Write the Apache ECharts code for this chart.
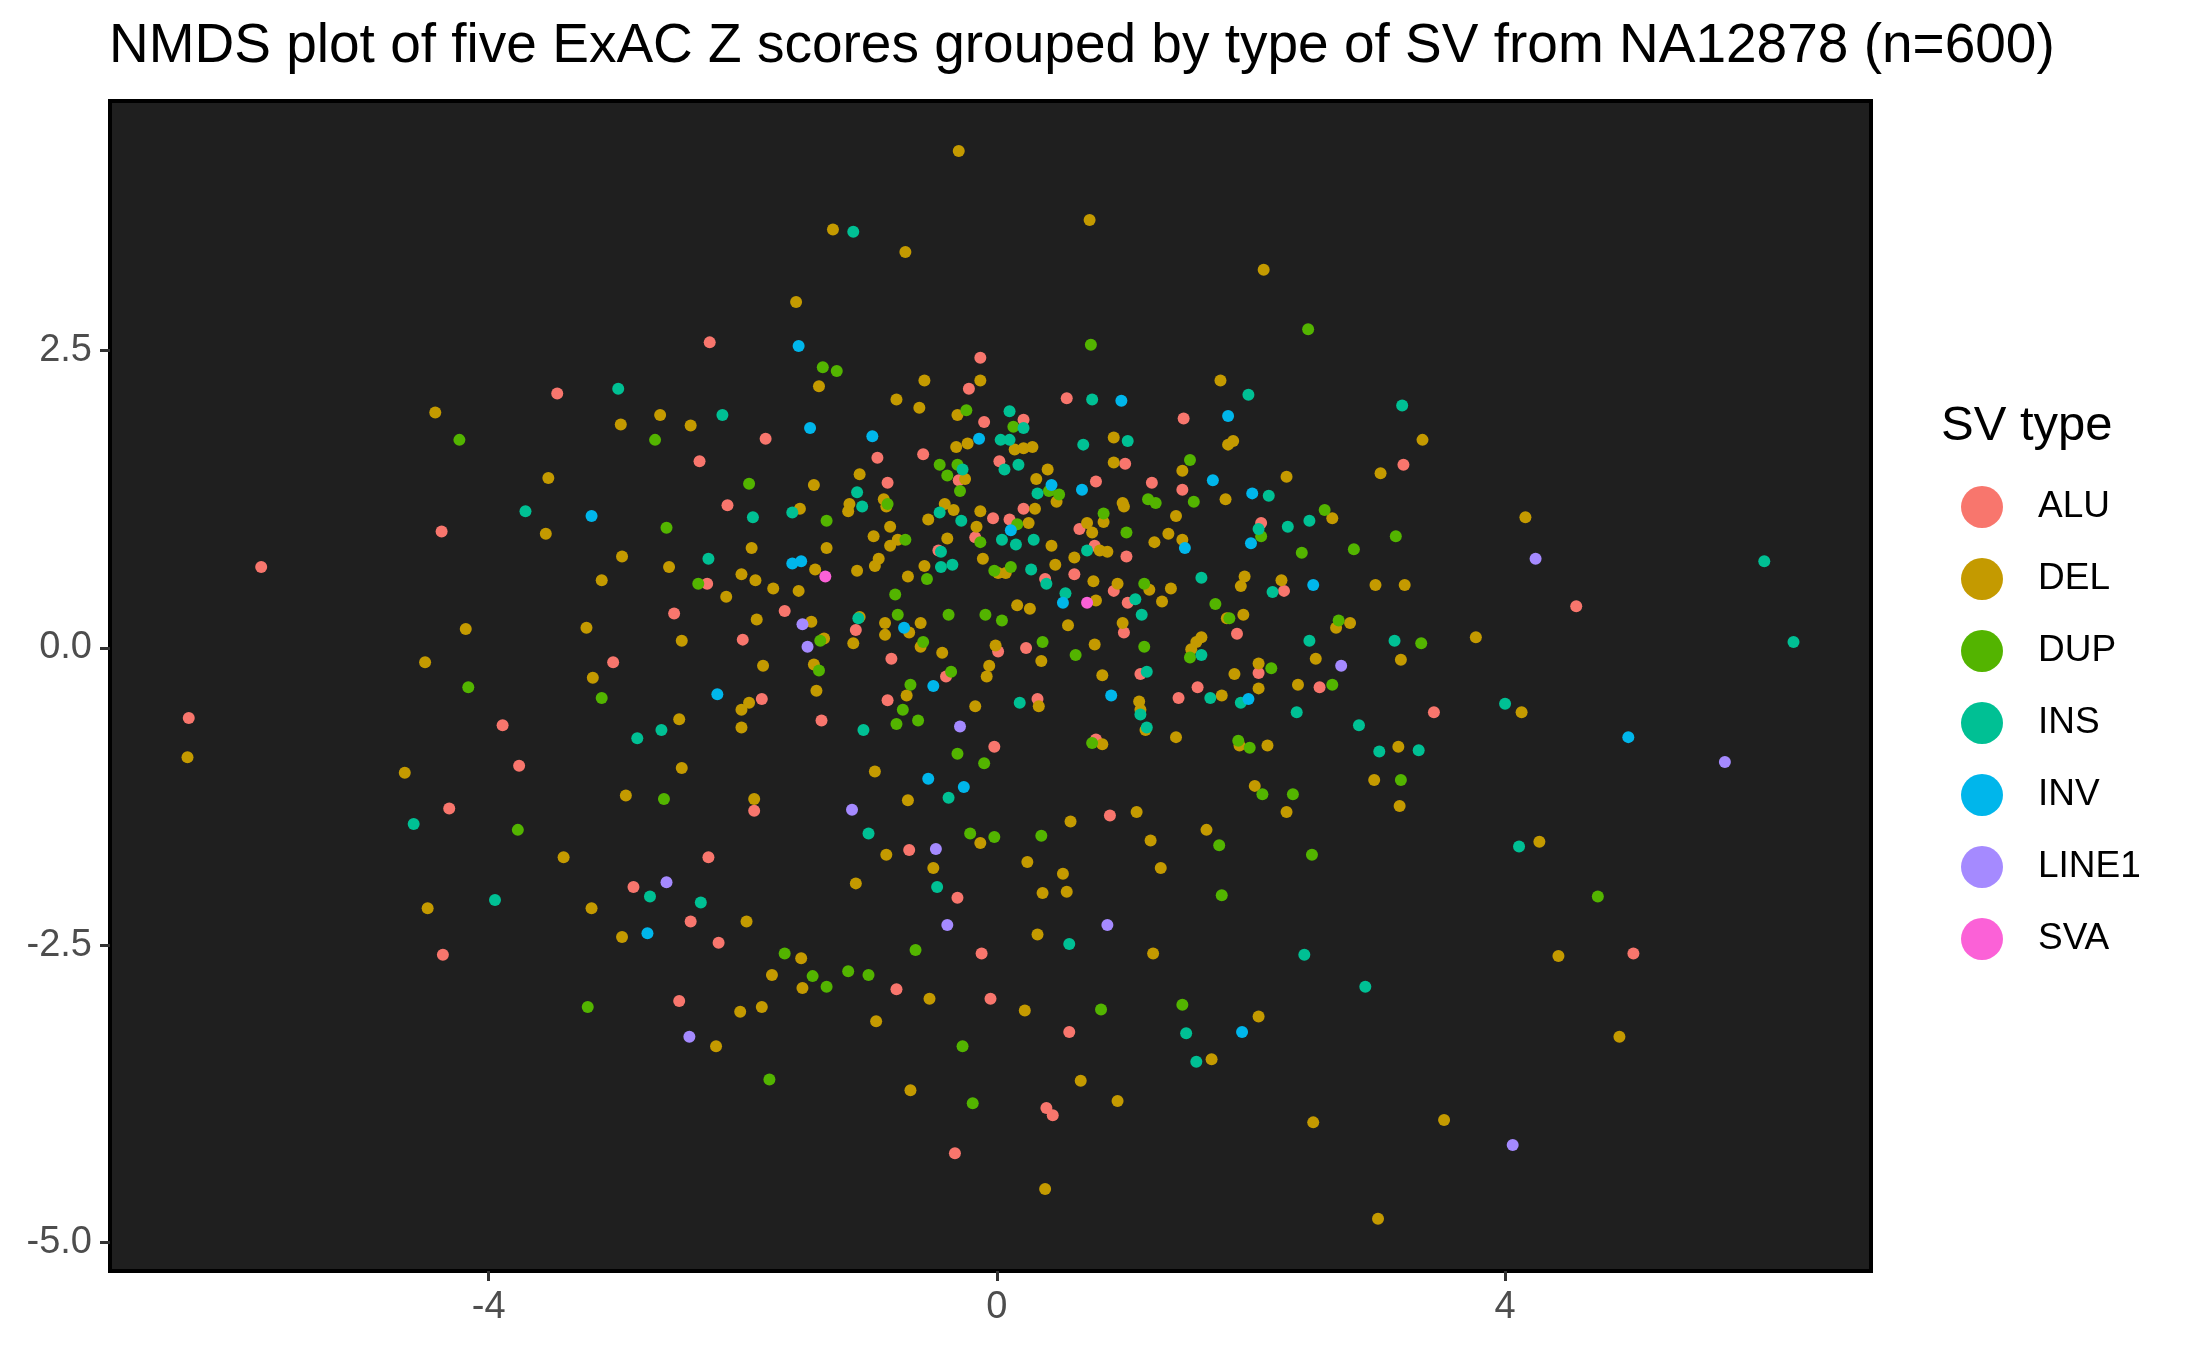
<!DOCTYPE html>
<html>
<head>
<meta charset="utf-8">
<script src="https://cdn.jsdelivr.net/npm/echarts@6/dist/echarts.min.js"></script>
<style>
  html, body { margin: 0; padding: 0; background: #fff; }
  #main { width: 2187px; height: 1350px; }
</style>
</head>
<body>
<div id="main"></div>
<script>
// NMDS coordinates, one array per SV type: [NMDS1, NMDS2]
var alu = [[-2.26,2.57],[-3.46,2.14],[-2.34,1.57],
  [-0.13,2.44],[-0.22,2.18],[0.55,2.10],[0.21,1.92],[-0.10,1.90],[-1.82,1.76],[1.47,1.93],[-0.94,1.60],[-0.58,1.63],
  [-0.30,1.41],[0.02,1.57],[0.78,1.40],[1.01,1.55],[1.22,1.39],[1.46,1.33],[-0.86,1.39],[3.20,1.54],
  [-4.37,0.98],[-5.79,0.68],[-2.54,0.29],[-3.02,-0.12],[-6.36,-0.59],[-3.89,-0.65],[-3.76,-0.99],[-4.31,-1.35],[-2.86,-2.01],
  [-2.12,1.20],[-0.03,1.09],[-0.17,0.93],[-0.46,0.82],[-2.28,0.54],[-1.67,0.31],[-1.11,0.15],[-2.00,0.07],[0.01,-0.03],
  [-0.83,-0.09],[-0.40,-0.24],[-1.85,-0.43],[-0.86,-0.44],[-1.38,-0.61],[-0.02,-0.83],[-1.91,-1.37],[-2.27,-1.76],[-0.69,-1.70],
  [0.21,1.17],[0.10,1.08],[0.65,1.00],[0.77,0.86],[1.02,0.77],[2.08,1.05],[0.61,0.62],[0.38,0.58],[0.92,0.48],[2.26,0.48],
  [1.03,0.38],[1.00,0.13],[1.89,0.12],[0.23,0.00],[1.13,-0.22],[2.06,-0.21],[1.58,-0.33],[1.43,-0.42],[0.32,-0.43],[0.78,-0.77],[0.89,-1.41],
  [4.56,0.35],[2.54,-0.33],[3.44,-0.54],
  [-2.41,-2.30],[-4.36,-2.58],[-2.50,-2.97],
  [-0.31,-2.10],[-2.19,-2.48],[-0.12,-2.57],[-0.79,-2.87],[-0.05,-2.95],[-0.33,-4.25],
  [0.57,-3.23],[0.39,-3.87],[0.44,-3.93],[5.01,-2.57]];

var del = [[-4.42,1.98],[-2.96,1.88],[-2.65,1.96],[-2.41,1.87],[-3.53,1.43],
  [-0.30,4.18],[-1.29,3.52],[-0.72,3.33],[0.73,3.60],[2.10,3.18],[-1.58,2.91],[-1.40,2.20],[-0.57,2.25],[-0.13,2.25],
  [-0.79,2.09],[-0.61,2.02],[1.76,2.25],[-0.31,1.96],[0.92,1.77],[-0.32,1.69],[-0.23,1.72],[0.14,1.67],[0.21,1.68],
  [0.28,1.69],[1.82,1.71],[1.86,1.74],[-0.25,1.42],[0.40,1.50],[0.31,1.42],[0.92,1.56],[1.46,1.49],[2.28,1.44],
  [-1.44,1.37],[-1.08,1.46],[3.35,1.75],[3.02,1.47],
  [-3.55,0.96],[-2.95,0.77],[-2.58,0.68],[-3.11,0.57],[-4.18,0.16],[-3.23,0.17],[-2.48,0.06],[-4.50,-0.12],
  [-3.18,-0.25],[-2.50,-0.60],[-6.37,-0.92],[-4.66,-1.05],[-2.48,-1.01],[-2.92,-1.24],[-3.41,-1.76],
  [-1.55,1.17],[-1.16,1.21],[-1.17,1.15],[-0.89,1.25],[-0.87,1.19],[-0.84,1.02],[-0.97,0.94],[-0.78,0.91],[-0.84,0.86],
  [-0.41,1.21],[-0.34,1.16],[-0.54,1.08],[-0.13,1.15],[-0.16,1.02],[-0.39,0.92],[-1.93,0.84],[-1.34,0.84],[-0.11,0.75],
  [-1.43,0.66],[-1.10,0.65],[-0.93,0.75],[-0.96,0.69],[-0.57,0.69],[0.01,0.63],[-2.01,0.62],[-1.90,0.57],[-1.76,0.50],
  [-1.56,0.48],[-0.70,0.60],[-2.13,0.43],[-1.89,0.24],[-1.46,0.22],[-1.08,0.26],[-0.88,0.21],[-0.88,0.11],[-0.69,0.13],
  [-0.60,0.21],[-1.36,0.08],[-1.13,0.04],[-0.60,0.01],[-0.43,-0.04],[-0.01,0.02],[-1.84,-0.15],[-1.44,-0.14],[-0.06,-0.15],
  [-0.08,-0.24],[-1.95,-0.46],[-2.01,-0.52],[-1.42,-0.36],[-0.71,-0.40],[-0.17,-0.49],[-2.01,-0.67],[-0.96,-1.04],
  [-1.91,-1.27],[-0.70,-1.28],[-0.13,-1.64],[-0.87,-1.74],[-0.50,-1.85],[-1.11,-1.98],
  [0.47,1.23],[0.99,1.22],[1.00,1.19],[1.80,1.25],[0.30,1.17],[0.25,1.05],[0.43,0.86],[0.71,1.05],[0.75,0.97],[0.84,1.06],
  [0.81,0.82],[0.87,0.81],[1.24,0.89],[1.35,0.96],[1.41,1.11],[1.46,0.91],[0.07,0.63],[0.46,0.70],[0.61,0.76],[0.76,0.56],
  [0.95,0.54],[1.20,0.49],[1.37,0.50],[1.95,0.60],[1.92,0.52],[2.24,0.57],[0.78,0.40],[1.30,0.39],[0.16,0.36],[0.26,0.33],
  [0.99,0.21],[0.56,0.19],[1.81,0.25],[1.94,0.28],[0.77,0.03],[1.61,0.09],[1.57,0.05],[1.53,-0.01],[0.35,-0.11],[0.83,-0.23],
  [1.87,-0.22],[2.06,-0.13],[2.37,-0.31],[1.77,-0.40],[2.06,-0.34],[0.33,-0.49],[1.12,-0.45],[1.13,-0.52],[1.17,-0.69],
  [1.41,-0.75],[0.83,-0.81],[1.91,-0.82],[2.13,-0.82],[2.03,-1.16],[2.28,-1.38],[1.10,-1.38],[0.58,-1.46],[1.65,-1.53],
  [1.21,-1.62],[0.24,-1.80],[0.52,-1.90],[1.29,-1.85],
  [2.64,1.09],[4.16,1.10],[2.98,0.53],[3.21,0.53],[2.67,0.17],[2.78,0.21],[3.77,0.09],[2.51,-0.09],[3.18,-0.10],
  [4.13,-0.54],[3.16,-0.83],[2.97,-1.11],[3.17,-1.33],[4.27,-1.63],
  [-4.48,-2.19],[-3.19,-2.19],[-2.95,-2.43],
  [-1.97,-2.30],[-1.54,-2.61],[-1.77,-2.75],[-1.53,-2.86],[-0.53,-2.95],[-2.02,-3.06],[-1.85,-3.02],[-0.95,-3.14],
  [-2.21,-3.35],[-0.68,-3.72],
  [0.36,-2.06],[0.55,-2.05],[0.32,-2.41],[1.23,-2.57],[0.22,-3.05],[2.06,-3.10],[1.69,-3.46],[0.66,-3.64],[0.95,-3.81],[0.38,-4.55],
  [4.42,-2.59],[4.90,-3.27],[2.49,-3.99],[3.52,-3.97],[3.00,-4.80]];

var dup = [[-4.23,1.75],[-2.69,1.75],
  [0.74,2.55],[-1.37,2.36],[-1.26,2.33],[-0.24,2.00],[0.13,1.86],[-0.45,1.54],[-0.31,1.54],[-0.39,1.45],[-0.29,1.32],
  [0.41,1.32],[0.49,1.29],[1.52,1.58],[-1.95,1.38],[2.45,2.68],
  [-2.60,1.01],[-2.35,0.54],[-4.16,-0.33],[-3.11,-0.42],[-2.62,-1.27],[-3.77,-1.53],
  [-1.34,1.07],[-0.86,1.21],[-0.72,0.91],[-0.13,0.89],[-0.02,0.65],[-0.55,0.58],[-0.80,0.45],[-0.78,0.28],[-0.38,0.28],
  [-0.09,0.28],[0.04,0.23],[-1.39,0.06],[-0.58,0.05],[-1.40,-0.19],[-0.36,-0.20],[-0.68,-0.31],[-0.74,-0.52],[-0.79,-0.64],
  [-0.62,-0.61],[-0.31,-0.89],[-0.10,-0.97],[-0.21,-1.56],[-0.02,-1.59],
  [1.19,1.25],[1.25,1.22],[1.55,1.23],[0.16,1.04],[0.84,1.13],[1.02,0.97],[2.08,0.94],[2.40,0.80],[0.11,0.68],[1.16,0.54],
  [1.72,0.37],[1.83,0.25],[0.36,0.05],[1.16,0.01],[1.52,-0.08],[0.62,-0.06],[2.16,-0.17],[0.75,-0.80],[1.90,-0.78],
  [1.99,-0.84],[2.09,-1.23],[2.33,-1.23],[1.75,-1.66],[0.35,-1.58],
  [2.58,1.16],[3.14,0.94],[2.81,0.83],[2.69,0.23],[3.34,0.04],[2.64,-0.31],[3.18,-1.11],[2.48,-1.74],
  [-3.22,-3.02],
  [-1.67,-2.57],[-0.64,-2.54],[-1.45,-2.76],[-1.34,-2.85],[-1.17,-2.72],[-1.01,-2.75],[-0.27,-3.35],[-1.79,-3.63],[-0.19,-3.83],
  [1.77,-2.08],[0.82,-3.04],[1.46,-3.00],[4.73,-2.09]];

var ins = [[-2.98,2.18],
  [-1.13,3.50],[0.75,2.09],[1.98,2.13],[-2.16,1.96],[0.10,1.99],[0.21,1.85],[1.03,1.74],[0.68,1.71],[0.03,1.75],[0.10,1.75],
  [-0.27,1.50],[0.06,1.50],[0.17,1.54],[0.32,1.30],[2.14,1.28],[-1.10,1.31],[3.19,2.04],
  [-3.71,1.15],[-2.64,-0.69],[-2.83,-0.76],[-4.59,-1.48],
  [-1.92,1.10],[-1.61,1.14],[-1.06,1.19],[-0.45,1.14],[-0.28,1.07],[0.04,0.91],[-2.27,0.75],[-0.44,0.81],[-0.44,0.68],
  [-0.35,0.70],[-1.09,0.25],[-1.05,-0.69],[-0.38,-1.26],[-1.01,-1.56],[-0.47,-2.01],
  [0.15,0.87],[0.29,0.91],[0.71,0.82],[2.06,1.00],[2.29,1.02],[0.27,0.66],[0.39,0.54],[1.61,0.59],[2.17,0.47],[0.54,0.46],
  [1.09,0.41],[1.14,0.28],[1.61,-0.06],[1.18,-0.20],[1.68,-0.42],[1.92,-0.46],[2.36,-0.54],[0.18,-0.46],[1.13,-0.56],[1.18,-0.67],
  [2.46,1.07],[6.04,0.73],[2.46,0.06],[3.13,0.06],[6.27,0.05],[4.00,-0.47],[2.85,-0.65],[3.01,-0.87],[3.32,-0.86],[4.11,-1.67],
  [-2.73,-2.09],[-2.33,-2.14],[-3.95,-2.12],
  [0.57,-2.49],[1.49,-3.24],[1.57,-3.48],[2.42,-2.58],[2.90,-2.85]];

var inv = [[-1.56,2.54],[0.98,2.08],[-1.47,1.85],[-0.98,1.78],[1.82,1.95],[-0.14,1.76],[0.43,1.37],[0.67,1.33],[1.70,1.41],[2.01,1.30],
  [-3.19,1.11],
  [-1.61,0.71],[-1.54,0.73],[-0.73,0.17],[-0.50,-0.32],[-2.20,-0.39],[-0.54,-1.10],[-0.26,-1.17],
  [0.11,0.99],[2.00,0.88],[1.48,0.84],[0.52,0.38],[1.98,-0.43],[0.90,-0.40],
  [2.49,0.53],[4.97,-0.75],[-2.75,-2.40],[1.93,-3.23]];

var line1 = [[-2.60,-1.97],[-1.53,0.20],[-1.49,0.01],[-0.29,-0.66],[-1.14,-1.36],[-0.48,-1.69],
  [4.24,0.75],[2.71,-0.15],[5.73,-0.96],[-2.42,-3.27],[-0.39,-2.33],[0.87,-2.33],[4.06,-4.18]];

var sva = [[-1.35,0.60],[0.71,0.38]];

var svTypes = ['ALU', 'DEL', 'DUP', 'INS', 'INV', 'LINE1', 'SVA'];
var svData = [alu, del, dup, ins, inv, line1, sva];
var svColors = ['#F8766D', '#C49A00', '#53B400', '#00C094', '#00B6EB', '#A58AFF', '#FB61D7'];
var xTicks = [-4, 0, 4];
var yTicks = [-5, -2.5, 0, 2.5];

var series = svTypes.map(function (name, i) {
    return {
        name: name,
        type: 'scatter',
        data: svData[i],
        symbolSize: 12,
        itemStyle: { color: svColors[i], opacity: 1 },
        emphasis: { disabled: true }
    };
});

var option = {
    backgroundColor: '#fff',
    animation: false,
    textStyle: { fontFamily: 'Liberation Sans, Arial, sans-serif' },
    title: {
        text: 'NMDS plot of five ExAC Z scores grouped by type of SV from NA12878 (n=600)',
        left: 104,
        top: 14,
        textStyle: { fontSize: 55, fontWeight: 'normal', color: '#000' }
    },
    grid: {
        left: 110, right: 316, top: 101, bottom: 79,
        show: true,
        backgroundColor: '#1F1F1F',
        borderColor: '#000',
        borderWidth: 4
    },
    legend: {
        data: svTypes,
        orient: 'vertical',
        left: 1956,
        top: 481,
        icon: 'circle',
        itemWidth: 42,
        itemHeight: 42,
        itemGap: 30,
        selectedMode: false,
        textStyle: { fontSize: 37, lineHeight: 42, color: '#000', padding: [0, 0, 0, 30] }
    },
    graphic: [{
        type: 'text',
        x: 1941,
        y: 426,
        style: {
            text: 'SV type', fontSize: 49, fill: '#000', verticalAlign: 'middle',
            fontFamily: 'Liberation Sans, Arial, sans-serif'
        }
    }],
    xAxis: {
        type: 'value',
        min: -6.98, max: 6.88,
        axisLine: { show: false, onZero: false },
        splitLine: { show: false },
        axisTick: { show: true, length: 10, customValues: xTicks, lineStyle: { color: '#333', width: 3 } },
        axisLabel: { customValues: xTicks, fontSize: 38, color: '#4D4D4D', margin: 18 }
    },
    yAxis: {
        type: 'value',
        min: -5.24, max: 4.60,
        axisLine: { show: false, onZero: false },
        splitLine: { show: false },
        axisTick: { show: true, length: 10, customValues: yTicks, lineStyle: { color: '#333', width: 3 } },
        axisLabel: {
            customValues: yTicks, fontSize: 38, color: '#4D4D4D', margin: 18,
            formatter: function (v) { return v.toFixed(1); }
        }
    },
    series: series
};

var myChart = echarts.init(document.getElementById('main'));
myChart.setOption(option);
</script>
</body>
</html>
